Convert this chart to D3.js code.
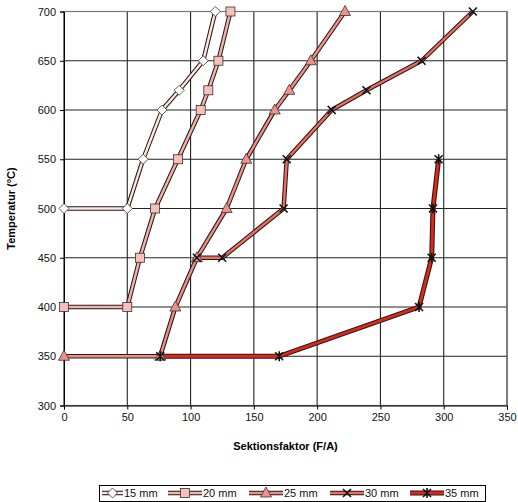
<!DOCTYPE html>
<html><head><meta charset="utf-8">
<script src="https://cdn.jsdelivr.net/npm/d3@7/dist/d3.min.js"></script>
<style>body{margin:0;background:#fff;} svg{display:block;font-family:"Liberation Sans",Arial,sans-serif;}</style>
</head><body>
<script>
const seriesNames = ["15 mm","20 mm","25 mm","30 mm","35 mm"];
const s15 = [[0,500],[50,500],[62.5,550],[77.5,600],[91,620],[110,650],[119.5,700]];
const s20 = [[0,400],[50,400],[60,450],[72,500],[90,550],[108,600],[114,620],[122,650],[131.5,700]];
const s25 = [[0,350],[76,350],[88,400],[105,450],[128.5,500],[144,550],[166.5,600],[178,620],[195,650],[222,700]];
const s30 = [[105,450],[125,450],[173.5,500],[176,550],[211.5,600],[239,620],[282.5,650],[323,700]];
const s35 = [[76,350],[170,350],[280.5,400],[290.5,450],[291.5,500],[296,550]];
const xTicks = [0,50,100,150,200,250,300,350];
const yTicks = [300,350,400,450,500,550,600,650,700];
const allSeries = [s15,s20,s25,s30,s35];
const lineColors = ["#fde6e2","#f4b4ae","#ee9088","#ec6e60","#e0281a"];
const markerFill = ["#ffffff","#f8c0bb","#f09189","#000","#000"];
const markerType = ["diamond","square","triangle","x","star"];

const W=518,H=502;
const svg=d3.select("body").append("svg").attr("width",W).attr("height",H);
const x=d3.scaleLinear().domain([0,350]).range([64,507]);
const y=d3.scaleLinear().domain([300,700]).range([405.5,11.5]);

// grid
svg.append("g").selectAll("line").data(xTicks).join("line")
 .attr("x1",d=>x(d)).attr("x2",d=>x(d)).attr("y1",y(300)).attr("y2",y(700))
 .attr("stroke","#222").attr("stroke-width",1.1);
svg.append("g").selectAll("line").data(yTicks).join("line")
 .attr("y1",d=>y(d)).attr("y2",d=>y(d)).attr("x1",x(0)).attr("x2",x(350))
 .attr("stroke","#222").attr("stroke-width",1.1);
svg.append("rect").attr("x",x(0)).attr("y",y(700)).attr("width",x(350)-x(0)).attr("height",y(300)-y(700))
 .attr("fill","none").attr("stroke","#777").attr("stroke-width",1.2);

// axes
const xa=svg.append("g").attr("transform",`translate(0,${y(300)})`)
 .call(d3.axisBottom(x).tickValues(xTicks).tickSize(4).tickPadding(4));
const ya=svg.append("g").attr("transform",`translate(${x(0)},0)`)
 .call(d3.axisLeft(y).tickValues(yTicks).tickSize(4).tickPadding(4));
[xa,ya].forEach(a=>{a.select(".domain").attr("stroke","#000");a.selectAll(".tick line").attr("stroke","#000");
 a.selectAll("text").attr("font-size",11).attr("fill","#111").attr("font-family","'Liberation Sans',Arial,sans-serif");});

svg.append("text").attr("x",x(175)).attr("y",450).attr("text-anchor","middle")
 .attr("font-size",11).attr("font-weight","bold").text("Sektionsfaktor (F/A)");
svg.append("text").attr("transform",`translate(15,${y(500)}) rotate(-90)`).attr("text-anchor","middle")
 .attr("font-size",11).attr("font-weight","bold").text("Temperatur (°C)");

function drawMarker(g,type,cx,cy,i){
  if(type==="diamond"){g.append("path").attr("d",`M${cx},${cy-5}L${cx+5},${cy}L${cx},${cy+5}L${cx-5},${cy}Z`).attr("fill",markerFill[i]).attr("stroke","#333").attr("stroke-width",0.8);}
  else if(type==="square"){g.append("rect").attr("x",cx-4.5).attr("y",cy-4.5).attr("width",9).attr("height",9).attr("fill",markerFill[i]).attr("stroke","#333").attr("stroke-width",0.8);}
  else if(type==="triangle"){g.append("path").attr("d",`M${cx},${cy-6}L${cx+5.5},${cy+4}L${cx-5.5},${cy+4}Z`).attr("fill",markerFill[i]).attr("stroke","#333").attr("stroke-width",0.8);}
  else if(type==="x"){g.append("path").attr("d",`M${cx-4},${cy-4}L${cx+4},${cy+4}M${cx+4},${cy-4}L${cx-4},${cy+4}`).attr("stroke","#111").attr("stroke-width",1.6);}
  else {g.append("path").attr("d",`M${cx-4},${cy-4}L${cx+4},${cy+4}M${cx+4},${cy-4}L${cx-4},${cy+4}M${cx},${cy-5}L${cx},${cy+5}`).attr("stroke","#111").attr("stroke-width",1.6);}
}

const line=d3.line().x(d=>x(d[0])).y(d=>y(d[1]));
allSeries.forEach((s,i)=>{
  const g=svg.append("g");
  const ow = i===4?5:4.5, iw = i===4?2.8:2.4;
  g.append("path").attr("d",line(s)).attr("fill","none").attr("stroke","#2a1a18").attr("stroke-width",ow).attr("stroke-linejoin","round");
  g.append("path").attr("d",line(s)).attr("fill","none").attr("stroke",lineColors[i]).attr("stroke-width",iw).attr("stroke-linejoin","round");
});
allSeries.forEach((s,i)=>{
  const g=svg.append("g");
  s.forEach(p=>drawMarker(g,markerType[i],x(p[0]),y(p[1]),i));
});

// legend
const lg=svg.append("g");
lg.append("rect").attr("x",99.5).attr("y",485.5).attr("width",386).attr("height",16).attr("fill","#fff").attr("stroke","#000").attr("stroke-width",1);
const lx=[102,168,249,330,410];
seriesNames.forEach((n,i)=>{
  const x0=lx[i], x1=x0+(i===0?21:34), cy=493;
  const ow = i===4?5:4.5, iw = i===4?2.8:2.4;
  lg.append("line").attr("x1",x0).attr("x2",x1).attr("y1",cy).attr("y2",cy).attr("stroke","#2a1a18").attr("stroke-width",ow);
  lg.append("line").attr("x1",x0).attr("x2",x1).attr("y1",cy).attr("y2",cy).attr("stroke",lineColors[i]).attr("stroke-width",iw);
  drawMarker(lg,markerType[i],(x0+x1)/2,cy,i);
  lg.append("text").attr("x",x1+1).attr("y",cy+4).attr("font-size",11).attr("fill","#111").text(n);
});
</script>
</body></html>
